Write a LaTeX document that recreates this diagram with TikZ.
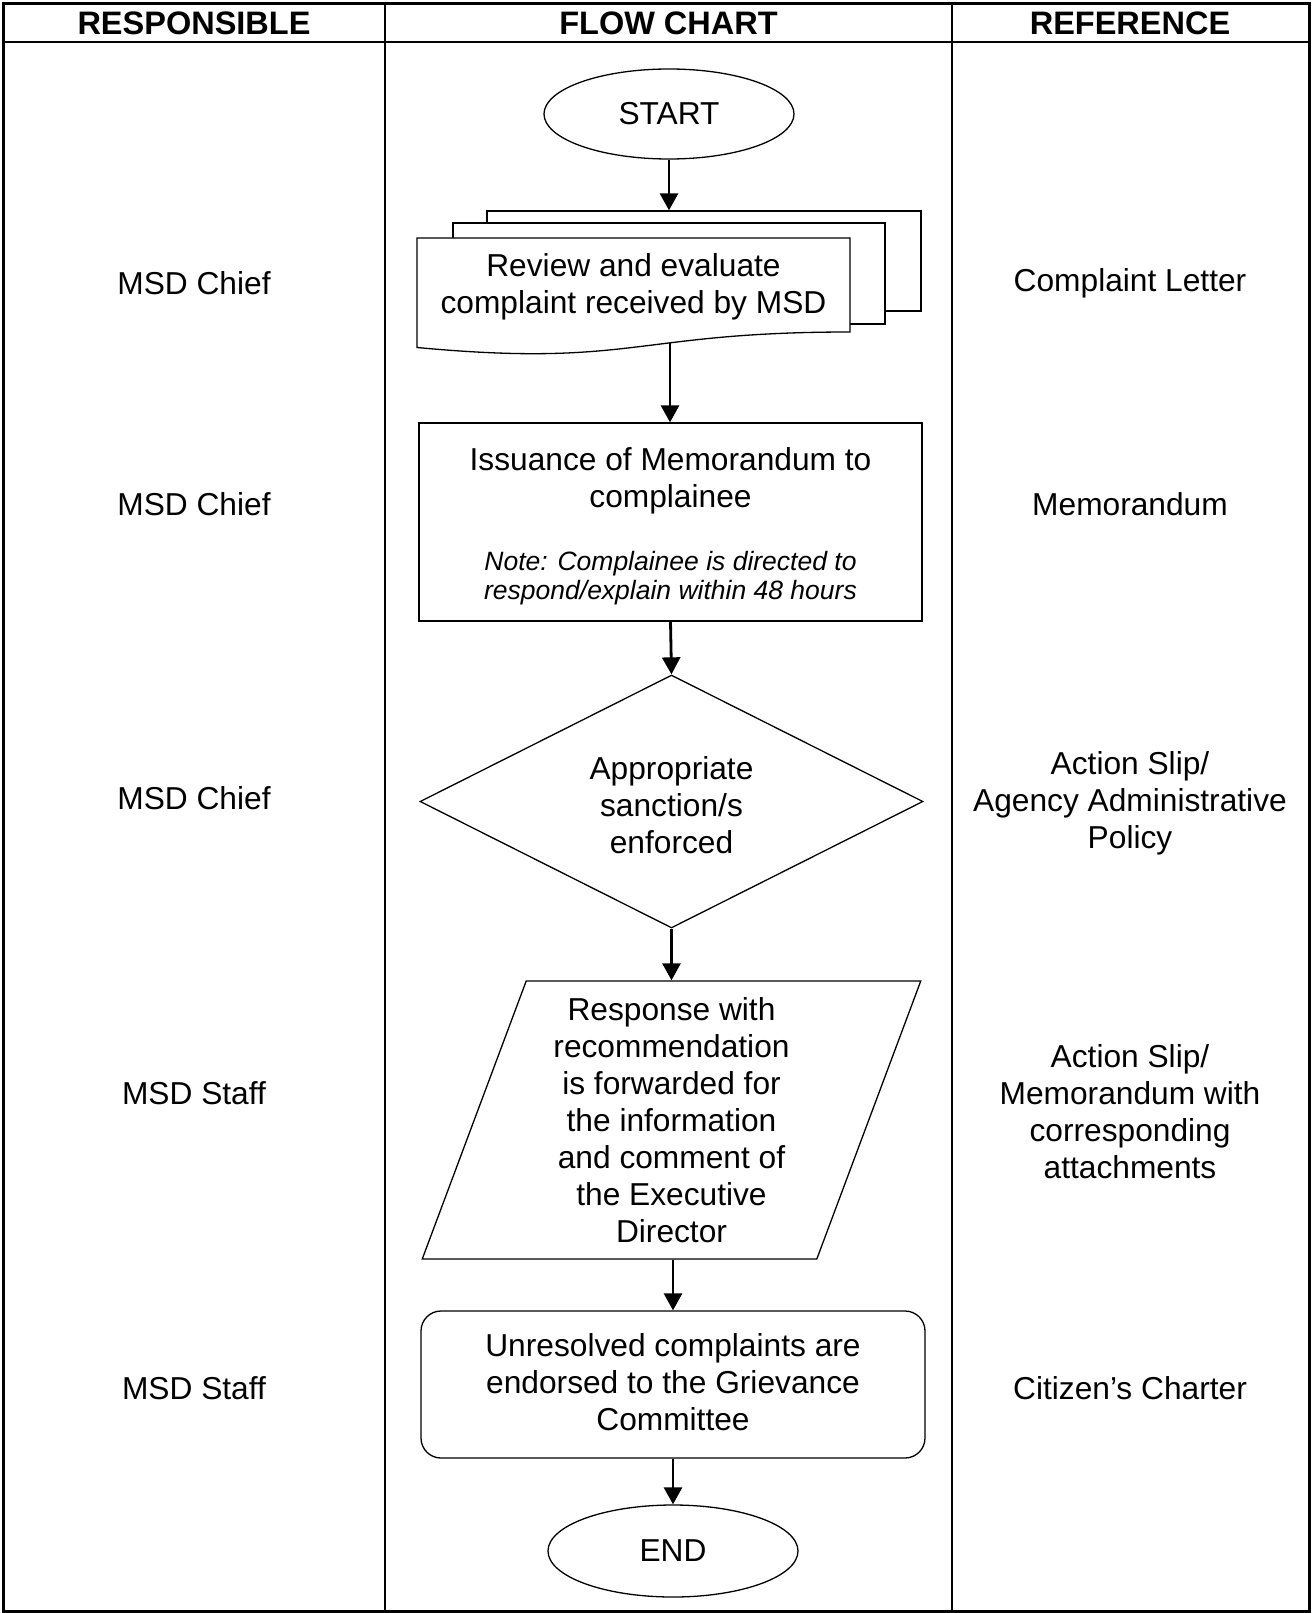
\documentclass[tikz,border=0pt]{standalone}
\usepackage{fontspec}
\setmainfont{Liberation Sans}
\usetikzlibrary{shapes.geometric,arrows.meta}

\begin{document}
\begin{tikzpicture}[x=1pt, y=-1pt,
    txt/.style={font=\fontsize{31.7}{37}\selectfont, align=center, inner sep=0pt},
    notetxt/.style={font=\itshape\fontsize{26.5}{29.5}\selectfont, align=center, inner sep=0pt},
    hdr/.style={font=\bfseries\fontsize{32.5}{38}\selectfont, inner sep=0pt},
    shp/.style={draw=black, line width=1.3pt, fill=white},
    flow/.style={line width=2.8pt, -{Triangle[length=17pt, width=18pt]}}]
    \useasboundingbox (0,0) rectangle (1313,1613);

    % Tabla
    \draw[line width=3pt] (3,4) rectangle (1309,1611);
    \draw[line width=2pt] (3,42.5) -- (1309,42.5);
    \draw[line width=2pt] (385,4) -- (385,1611);
    \draw[line width=2pt] (952,4) -- (952,1611);

    % Encabezados
    \node[hdr] (hresp) at (194,23) {RESPONSIBLE};
    \node[hdr] (hflow) at (668.5,23) {FLOW CHART};
    \node[hdr] (href) at (1130,23) {REFERENCE};

    % Responsables
    \node[txt] (resp1) at (194,283) {MSD Chief};
    \node[txt] (resp2) at (194,504) {MSD Chief};
    \node[txt] (resp3) at (194,798) {MSD Chief};
    \node[txt] (resp4) at (194,1093) {MSD Staff};
    \node[txt] (resp5) at (194,1388) {MSD Staff};

    % Referencias
    \node[txt] (ref1) at (1130,283) {Complaint Letter};
    \node[txt] (ref2) at (1130,504) {Memorandum};
    \node[txt] (ref3) at (1130,803) {Action Slip/\\Agency Administrative\\Policy};
    \node[txt] (ref4) at (1130,1112) {Action Slip/\\Memorandum with\\corresponding\\attachments};
    \node[txt] (ref5) at (1130,1388) {Citizen’s Charter};

    % Inicio
    \node[shp, txt, ellipse, minimum width=250pt, minimum height=90pt] (start) at (669,114) {START};

    % Documentos
    \node[shp, rectangle, minimum width=434pt, minimum height=100pt] (sheetc) at (704,261) {};
    \node[shp, rectangle, minimum width=432pt, minimum height=101pt] (sheetb) at (669,273.5) {};
    \filldraw[shp] (417,238) -- (850,238) -- (850,332)
        .. controls (633.5,332) and (633.5,367.7) .. (417,347.5) -- cycle;
    \node[txt] (review) at (633.5,287) {Review and evaluate\\complaint received by MSD};
    \coordinate (docout) at (670,342.8);

    % Memorandum
    \node[shp, minimum width=503pt, minimum height=198pt] (memo) at (670.5,522) {};
    \node[txt] (memotitle) at (670.5,480.5) {Issuance of Memorandum to\\complainee};
    \node[notetxt] (memonote) at (670.5,578) {Note: Complainee is directed to\\respond/explain within 48 hours};

    % Decision
    \node[shp, diamond, aspect=2, minimum width=503pt, minimum height=253pt] (sanction) at (671.5,801.5) {};
    \node[txt] (sanctiontxt) at (671.5,805.5) {Appropriate\\sanction/s\\enforced};

    % Respuesta
    \node[shp, txt, trapezium, trapezium left angle=71, trapezium right angle=109, trapezium stretches,
        minimum width=501pt, minimum height=278pt] (forward) at (671.5,1120)
        {Response with\\recommendation\\is forwarded for\\the information\\and comment of\\the Executive\\Director};

    % Endoso
    \node[shp, rounded corners=20pt, minimum width=504pt, minimum height=147pt] (endorse) at (673,1384.5) {};
    \node[txt] (endorsetxt) at (673,1382.5) {Unresolved complaints are\\endorsed to the Grievance\\Committee};

    % Fin
    \node[shp, txt, ellipse, minimum width=250pt, minimum height=92pt] (finish) at (673,1551) {END};

    % Flechas
    \draw[flow] (start.south) -- (start.south |- sheetc.north);
    \draw[flow] (docout) -- (docout |- memo.north);
    \draw[flow] (memo.south) -- (sanction.north);
    \draw[flow] (sanction.south) -- (sanction.south |- forward.north);
    \draw[flow] (endorse.north |- forward.south) -- (endorse.north);
    \draw[flow] (endorse.south) -- (finish.north);
\end{tikzpicture}
\end{document}
